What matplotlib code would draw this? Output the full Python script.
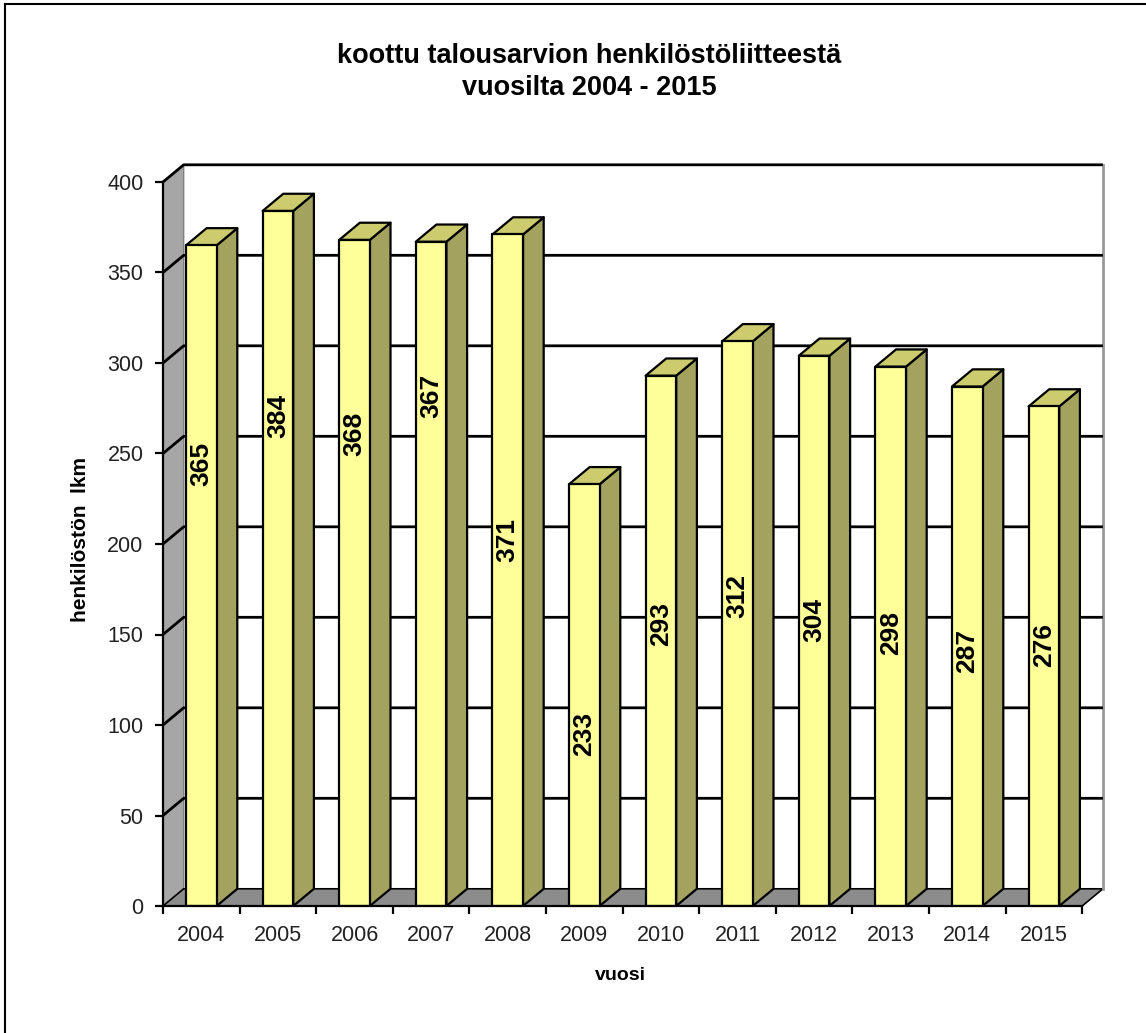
import matplotlib
matplotlib.use("Agg")
import matplotlib.pyplot as plt
from matplotlib.patches import Polygon
from matplotlib.lines import Line2D

plt.rcParams['font.family'] = ['Liberation Sans', 'DejaVu Sans']

# data
years = ['2004', '2005', '2006', '2007', '2008', '2009',
         '2010', '2011', '2012', '2013', '2014', '2015']
staff = [365, 384, 368, 367, 371, 233, 293, 312, 304, 298, 287, 276]
# where excel happened to put the value labels (value units)
label_y = [244, 271, 261, 282, 202, 95, 156, 171, 158, 151, 141, 144]
yticks = [0, 50, 100, 150, 200, 250, 300, 350, 400]

title = 'koottu talousarvion henkilöstöliitteestä\nvuosilta 2004 - 2015'
ylabel = 'henkilöstön  lkm'
xlabel = 'vuosi'

# fake 3d depth
dx, dy = 0.27, 9.5
bar_w = 0.40
ymax = 400

W, H = 1146, 1033
fig = plt.figure(figsize=(W / 100, H / 100), dpi=100)
px_x = 76.6     # px per category
px_y = 1.81     # px per unit
left, base = 163, 906
ax = fig.add_axes([left / W, 1 - base / H,
                   (len(years) + dx) * px_x / W, (ymax + dy) * px_y / H])
ax.set_xlim(0, len(years) + dx)
ax.set_ylim(0, ymax + dy)
n = len(years)

# walls and floor
ax.add_patch(Polygon([(dx, dy), (n + dx, dy), (n + dx, ymax + dy), (dx, ymax + dy)],
                     closed=True, facecolor='white', edgecolor='none', zorder=0))
ax.add_patch(Polygon([(0, 0), (0, ymax), (dx, ymax + dy), (dx, dy)],
                     closed=True, facecolor='#a6a6a6', edgecolor='#808080',
                     lw=1, zorder=1, clip_on=False))
ax.add_patch(Polygon([(0, 0), (n, 0), (n + dx, dy), (dx, dy)],
                     closed=True, facecolor='#8c8c8c', edgecolor='black',
                     lw=1.2, zorder=1, clip_on=False))
ax.plot([n + dx, n + dx], [dy, ymax + dy], color='#999999', lw=2, zorder=1, clip_on=False)

# gridlines on back and side wall
for v in yticks[1:]:
    ax.plot([0, dx, n + dx], [v, v + dy, v + dy], color='black', lw=2,
            zorder=2, clip_on=False, solid_capstyle='butt')

# bars
for i, v in enumerate(staff):
    xl = i + 0.5 - bar_w / 2
    xr = i + 0.5 + bar_w / 2
    side = [(xr, 0), (xr, v), (xr + dx, v + dy), (xr + dx, dy)]
    top = [(xl, v), (xr, v), (xr + dx, v + dy), (xl + dx, v + dy)]
    front = [(xl, 0), (xr, 0), (xr, v), (xl, v)]
    ax.add_patch(Polygon(side, closed=True, facecolor='#a3a35f', edgecolor='black',
                         lw=1.6, zorder=3, joinstyle='round'))
    ax.add_patch(Polygon(top, closed=True, facecolor='#cccc6e', edgecolor='black',
                         lw=1.6, zorder=3, joinstyle='round'))
    ax.add_patch(Polygon(front, closed=True, facecolor='#ffff99', edgecolor='black',
                         lw=1.6, zorder=3, joinstyle='round'))
    ax.text(i + 0.5, label_y[i], str(v), rotation=90, ha='center', va='center',
            fontsize=19, fontweight='bold', zorder=4)

# axes
for s in ['top', 'right']:
    ax.spines[s].set_visible(False)
ax.spines['left'].set_bounds(0, ymax)
ax.spines['bottom'].set_bounds(0, n)
for s in ['left', 'bottom']:
    ax.spines[s].set_linewidth(1.6)
    ax.spines[s].set_zorder(5)
ax.set_yticks(yticks)
ax.set_yticklabels([str(t) for t in yticks])
ax.tick_params(axis='y', length=6, width=1.6, pad=8, labelsize=15.5, labelcolor='#222222')
ax.set_xticks(range(n + 1))
ax.set_xticklabels([])
ax.set_xticks([i + 0.5 for i in range(n)], minor=True)
ax.set_xticklabels(years, minor=True)
ax.tick_params(axis='x', which='major', length=6, width=1.6)
ax.tick_params(axis='x', which='minor', length=0, pad=14, labelsize=15.5, labelcolor='#222222')

fig.text(589 / W, 1 - 72 / H, title, ha='center', va='center', fontsize=19.5,
         fontweight='bold', linespacing=1.3)
fig.text(80 / W, 1 - 540 / H, ylabel, rotation=90, ha='center', va='center',
         fontsize=15, fontweight='bold')
fig.text(620 / W, 1 - 975 / H, xlabel, ha='center', va='center', fontsize=14,
         fontweight='bold')

# outer border (left + top only)
fig.add_artist(Line2D([5 / W, 5 / W], [0, 1 - 4 / H], color='black', lw=1.5))
fig.add_artist(Line2D([5 / W, 1], [1 - 4 / H, 1 - 4 / H], color='black', lw=1.5))

fig.savefig('out.png', dpi=100)
